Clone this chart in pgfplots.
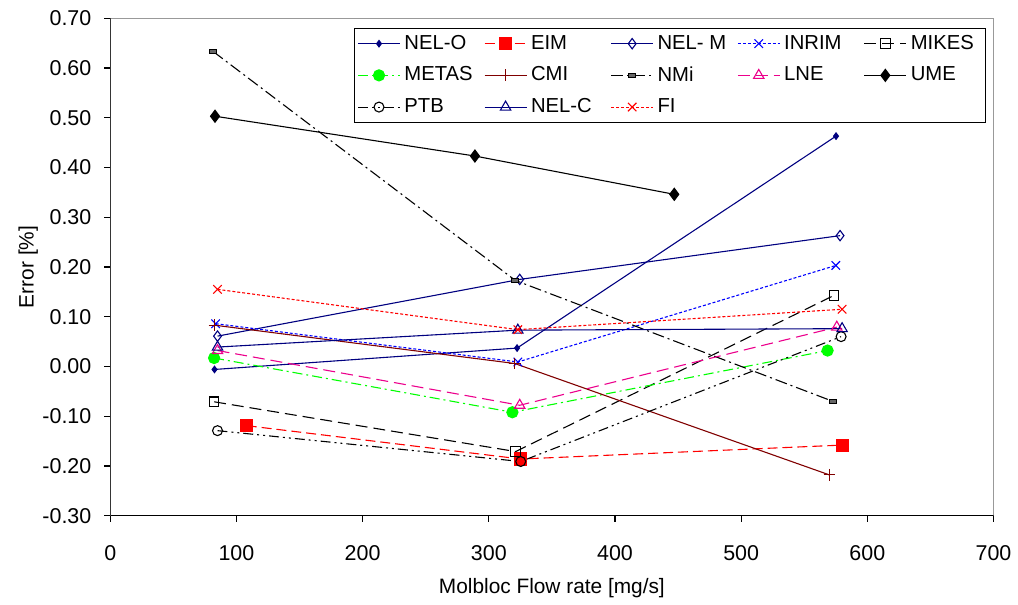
\documentclass[border=0pt]{standalone}
\usepackage{fontspec}
\setmainfont{Liberation Sans}
\usepackage{pgfplots}
\pgfplotsset{compat=1.18}

\definecolor{navy}{HTML}{000080}
\definecolor{maroon}{HTML}{800000}
\definecolor{lime}{HTML}{00FF00}

\begin{document}
\begin{tikzpicture}
\begin{axis}[
    name=ax,
    scale only axis,
    width=443.3bp, height=249.7bp,
    xmin=0, xmax=700, ymin=-0.3, ymax=0.7,
    xtick={0,100,...,700},
    ytick={-0.3,-0.2,...,0.71},
    tick pos=left,
    tick align=outside,
    major tick length=3bp,
    tick style={black, line width=0.6bp},
    axis line style={black!40, line width=0.6bp},
    /pgf/number format/assume math mode=true,
    yticklabel style={/pgf/number format/.cd, fixed, fixed zerofill, precision=2, /tikz/.cd, xshift=-3bp},
    xticklabel style={/pgf/number format/.cd, fixed, /tikz/.cd, yshift=-8.5bp},
    tick label style={font=\fontsize{10.8}{12}\selectfont},
    label style={font=\fontsize{10.5}{12}\selectfont},
    xlabel={Molbloc Flow rate [mg/s]},
    ylabel={Error [\%]},
    xlabel style={at={(axis description cs:0.5,-0.146)}, anchor=center},
    ylabel style={at={(axis description cs:-0.093,0.5)}, anchor=center},
    legend columns=5,
    legend style={at={(axis description cs:0.276,0.981)}, anchor=north west,
        draw=black, line width=0.5bp, fill=white,
        font=\fontsize{10.2}{12}\selectfont, inner sep=1.5bp,
        /tikz/every even column/.append style={column sep=0bp},
        row sep=3.2bp},
    legend cell align=left,
    legend image code/.code={
        \draw[mark repeat=2, mark phase=2] plot coordinates {(0bp,0bp) (10.5bp,0bp) (21bp,0bp)};
    },
    every axis plot/.append style={line width=0.55bp},
]
% NEL-O
\addplot[navy, mark=diamond*, mark size=1.6bp, mark options={solid, fill=navy}]
    coordinates {(82.6,-0.006) (322.4,0.037) (575.2,0.463)};
\addlegendentry{\makebox[38bp][l]{NEL-O}}
% EIM
\addplot[red, dash pattern=on 5bp off 2.5bp, mark=square*, mark size=3bp, mark options={solid, fill=red}]
    coordinates {(108.2,-0.119) (325.3,-0.186) (580,-0.158)};
\addlegendentry{\makebox[38bp][l]{EIM}}
% NEL-M
\addplot[navy, mark=diamond, mark size=2.6bp, mark options={solid, fill=white}]
    coordinates {(85,0.061) (324.5,0.175) (578.4,0.263)};
\addlegendentry{\makebox[38bp][l]{NEL- M}}
% INRIM
\addplot[blue, dash pattern=on 1.5bp off 1bp, mark=x, mark size=3bp, mark options={solid}]
    coordinates {(83.5,0.086) (323,0.009) (575,0.203)};
\addlegendentry{\makebox[38bp][l]{INRIM}}
% MIKES
\addplot[black, dash pattern=on 6bp off 3bp, mark=square, mark size=2.4bp, mark options={solid, fill=white}]
    coordinates {(82.3,-0.071) (321.3,-0.171) (573.7,0.143)};
\addlegendentry{\makebox[34bp][l]{MIKES}}
% METAS
\addplot[lime, dash pattern=on 5bp off 2bp on 1bp off 2bp, mark=*, mark size=2.8bp, mark options={solid, fill=lime}]
    coordinates {(82.3,0.017) (318.7,-0.092) (568.5,0.032)};
\addlegendentry{\makebox[38bp][l]{METAS}}
% CMI
\addplot[maroon, mark=+, mark size=3bp, mark options={solid}]
    coordinates {(82.6,0.083) (320.5,0.006) (570,-0.218)};
\addlegendentry{\makebox[38bp][l]{CMI}}
% NMi
\addplot[black, dash pattern=on 6bp off 2bp on 1bp off 2bp, mark=square*, mark size=1.3bp,
    mark options={solid, xscale=1.3, yscale=0.75, fill=black!60}]
    coordinates {(81.6,0.633) (321,0.173) (572.6,-0.070)};
\addlegendentry{\makebox[38bp][l]{NMi}}
% LNE
\addplot[magenta, dash pattern=on 6bp off 3bp, mark=triangle, mark size=3bp, mark options={solid, fill=white}]
    coordinates {(85,0.032) (324.5,-0.078) (575.8,0.079)};
\addlegendentry{\makebox[38bp][l]{LNE}}
% UME
\addplot[black, mark=diamond*, mark size=3bp, mark options={solid, fill=black}]
    coordinates {(83,0.503) (289,0.423) (447,0.346)};
\addlegendentry{\makebox[34bp][l]{UME}}
% PTB
\addplot[black, dash pattern=on 5bp off 2bp on 1bp off 2bp on 1bp off 2bp, mark=o, mark size=2.5bp, mark options={solid, fill=white}]
    coordinates {(85,-0.129) (325.3,-0.191) (579.2,0.060)};
\addlegendentry{\makebox[38bp][l]{PTB}}
% NEL-C
\addplot[navy, mark=triangle, mark size=3bp, mark options={solid, fill=white}]
    coordinates {(85,0.039) (323,0.073) (580,0.076)};
\addlegendentry{\makebox[38bp][l]{NEL-C}}
% FI
\addplot[red, dash pattern=on 1.5bp off 1bp, mark=x, mark size=3bp, mark options={solid}]
    coordinates {(85,0.155) (323,0.074) (580,0.115)};
\addlegendentry{\makebox[38bp][l]{FI}}
% black left and bottom axis lines
\draw[black, line width=0.8bp] (rel axis cs:0,1) -- (rel axis cs:0,0) -- (rel axis cs:1,0);
\end{axis}
\path (ax.south west) ++(-55.35bp,-39.15bp) rectangle ++(509bp,298bp);
\end{tikzpicture}
\end{document}
